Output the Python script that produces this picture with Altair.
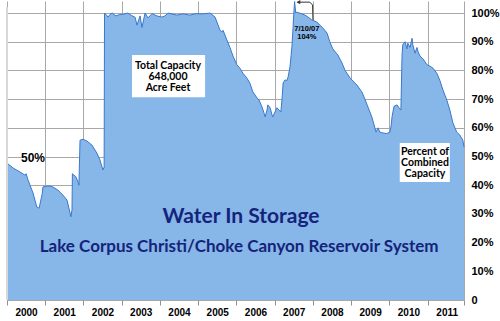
import altair as alt
import pandas as pd

# ---- data (offset in years from 2000, percent of capacity) ----
year_offset = [0.00, 0.16, 0.34, 0.47, 0.50, 0.55, 0.68, 0.78, 0.84, 0.92, 0.94, 1.05, 1.12, 1.20,
               1.33, 1.46, 1.57, 1.65, 1.67, 1.70, 1.71, 1.75, 1.80, 1.86, 1.88, 1.91, 1.99, 2.09,
               2.22, 2.35, 2.43, 2.51, 2.54, 2.55, 2.60, 2.64, 2.70, 2.75, 2.85, 2.95, 3.05, 3.16,
               3.25, 3.35, 3.40, 3.48, 3.53, 3.61, 3.69, 3.79, 3.92, 4.05, 4.13, 4.21, 4.44, 4.60,
               4.78, 4.95, 5.12, 5.31, 5.44, 5.52, 5.57, 5.62, 5.65, 5.75, 5.83, 5.91, 6.01, 6.09,
               6.17, 6.27, 6.35, 6.43, 6.54, 6.59, 6.67, 6.72, 6.75, 6.80, 6.82, 6.88, 6.93, 6.95,
               7.03, 7.06, 7.11, 7.16, 7.19, 7.22, 7.27, 7.32, 7.35, 7.40, 7.45, 7.48, 7.50, 7.52,
               7.55, 7.58, 7.71, 7.79, 7.87, 7.97, 8.10, 8.18, 8.26, 8.37, 8.44, 8.52, 8.65, 8.76,
               8.84, 8.97, 9.10, 9.15, 9.28, 9.36, 9.44, 9.54, 9.62, 9.65, 9.70, 9.75, 9.83, 9.93,
               10.01, 10.04, 10.07, 10.12, 10.20, 10.25, 10.30, 10.33, 10.35, 10.41, 10.46, 10.48,
               10.54, 10.59, 10.61, 10.67, 10.72, 10.75, 10.80, 10.88, 10.98, 11.06, 11.14, 11.24,
               11.32, 11.40, 11.50, 11.58, 11.66, 11.76, 11.84, 11.92, 11.95]
pct = [47.7, 46.0, 44.6, 43.5, 44.0, 41.8, 37.3, 32.4, 32.0, 37.0, 39.4, 39.7, 39.7, 39.4,
       38.3, 36.6, 34.8, 30.3, 29.0, 31.4, 44.0, 43.5, 43.0, 41.0, 40.0, 55.7, 56.0, 55.4,
       54.0, 51.2, 48.8, 45.3, 46.3, 100.0, 99.3, 98.6, 99.6, 100.0, 99.0, 99.5, 99.6, 100.0,
       99.2, 98.5, 95.8, 99.0, 95.0, 100.0, 98.3, 99.8, 99.0, 98.6, 99.0, 100.0, 99.3, 99.7,
       99.3, 99.8, 99.7, 100.0, 98.6, 95.8, 94.0, 93.4, 94.0, 90.6, 88.0, 85.0, 82.0, 80.8,
       79.0, 77.4, 75.6, 72.5, 70.4, 69.7, 67.2, 65.2, 63.8, 66.2, 68.0, 67.0, 64.5, 63.8,
       66.2, 67.0, 66.2, 65.5, 69.7, 75.6, 76.7, 76.5, 77.7, 81.2, 88.2, 95.0, 100.0, 104.0,
       100.0, 100.3, 99.7, 99.3, 98.6, 97.6, 96.9, 95.8, 94.8, 93.0, 90.0, 87.5, 85.4, 82.6,
       80.0, 77.4, 75.6, 74.9, 72.5, 70.0, 67.2, 63.8, 60.0, 58.5, 60.0, 58.5, 58.2, 58.0,
       58.5, 60.3, 64.0, 67.5, 68.0, 67.0, 66.2, 85.4, 89.0, 90.0, 87.5, 89.5,
       88.0, 91.2, 89.0, 86.0, 88.0, 86.5, 85.0, 84.0, 82.0, 81.5, 80.8, 79.0,
       76.5, 73.2, 69.7, 66.2, 61.7, 58.5, 57.5, 55.7, 53.3]

year_ticks = list(range(2000, 2012))
x_end = 2011.95
pct_ticks = list(range(0, 101, 10))

title_text = ["Water In Storage"]
subtitle_text = ["Lake Corpus Christi/Choke Canyon Reservoir System"]
capacity_lines = ["Total Capacity", "648,000", "Acre Feet"]
percent_lines = ["Percent of", "Combined", "Capacity"]
peak_lines = ["7/10/07", "104%"]

FILL = "#87b6e8"
EDGE = "#3a78cc"
NAVY = "#14247a"
GRID = "#a8a8a8"

df = pd.DataFrame({"year": [2000 + t for t in year_offset], "pct": pct})

xs = alt.Scale(domain=[2000, x_end], nice=False, zero=False)
ys = alt.Scale(domain=[0, 104.2], nice=False)

x_axis = alt.Axis(values=year_ticks + [x_end], title=None, grid=True, gridColor=GRID, gridWidth=1,
                  domain=False, ticks=True, tickColor="#909090", tickSize=5,
                  labelOffset=19, labelPadding=2, labelFont="Liberation Sans", labelFontWeight="bold",
                  labelFontSize=10, labelColor="#000000", labelOverlap=False, labelFlush=False,
                  labelExpr="datum.value > 2011.5 ? '' : format(datum.value, 'd')")
y_axis = alt.Axis(orient="right", values=pct_ticks, title=None, grid=True, gridColor=GRID, gridWidth=1,
                  domain=False, ticks=False, labelPadding=7, labelFont="Liberation Sans",
                  labelFontWeight="bold", labelFontSize=11, labelColor="#000000",
                  labelOverlap=False, labelFlush=False, labelBound=False,
                  labelExpr="datum.value == 0 ? '0' : datum.value + '%'")


def X(field):
    return alt.X(field, scale=xs, axis=x_axis, title=None)


def Y(field):
    return alt.Y(field, scale=ys, axis=y_axis, title=None)


area = alt.Chart(df).mark_area(color=FILL, opacity=1,
                               line={"color": EDGE, "strokeWidth": 1}).encode(
    x=X("year:Q"), y=Y("pct:Q"))

# left axis line
left_df = pd.DataFrame({"x": [2000], "y": [0], "y2": [102]})
left_rule = alt.Chart(left_df).mark_rule(color="#d8d8d8", strokeWidth=2).encode(
    x=X("x:Q"), y=Y("y:Q"), y2="y2:Q")

# white label boxes (data coordinates)
box_df = pd.DataFrame({
    "x": [2003.27, 2010.27, 2000.37],
    "x2": [2005.18, 2011.58, 2000.99],
    "y": [85.4, 54.7, 51.6],
    "y2": [70.7, 41.1, 47.4],
})
boxes = alt.Chart(box_df).mark_rect(color="white").encode(
    x=X("x:Q"), x2="x2:Q", y=Y("y:Q"), y2="y2:Q")


def text_layer(labels, xv, yv, size, color="#000000", font="Lato", weight="bold"):
    d = pd.DataFrame({"t": labels, "x": xv, "y": yv})
    return alt.Chart(d).mark_text(font=font, fontWeight=weight, fontSize=size, color=color,
                                  align="center", baseline="middle").encode(
        x=X("x:Q"), y=Y("y:Q"), text="t:N")


t_title = text_layer(title_text, [2006.12], [28.9], 21, NAVY)
t_sub = text_layer(subtitle_text, [2006.07], [18.3], 17, NAVY)
t_cap = text_layer(capacity_lines, [2004.21] * 3, [81.5, 77.7, 73.9], 10.5)
t_pct = text_layer(percent_lines, [2010.93] * 3, [51.6, 47.7, 43.9], 10.5)
t_50 = text_layer(["50%"], [2000.68], [49.5], 12, font="Liberation Sans")
t_peak = text_layer(peak_lines, [2007.84] * 2, [94.4, 91.6], 7.5, font="Liberation Sans")

# arrow pointing at the 104% peak
arrow_df = pd.DataFrame({"x": [2007.60, 2007.92, 2007.99, 2008.0],
                         "y": [103.8, 103.8, 102.8, 97.6], "o": [0, 1, 2, 3]})
arrow = alt.Chart(arrow_df).mark_line(color="#333333", strokeWidth=1).encode(
    x=X("x:Q"), y=Y("y:Q"), order="o:Q")
head_df = pd.DataFrame({"x": [2007.62], "y": [103.8]})
head = alt.Chart(head_df).mark_point(shape="triangle-left", filled=True, color="#333333",
                                      size=18, opacity=1).encode(
    x=X("x:Q"), y=Y("y:Q"))

chart = alt.layer(area, left_rule, boxes, t_title, t_sub, t_cap, t_pct, t_50, t_peak, arrow, head).properties(
    width=457, height=299,
    autosize=alt.AutoSizeParams(type="none"),
    padding={"left": 7, "top": 1, "right": 36, "bottom": 21},
    background="white",
).configure_view(stroke=None)

chart.save("out.html", embed_options={"renderer": "svg", "actions": False})
